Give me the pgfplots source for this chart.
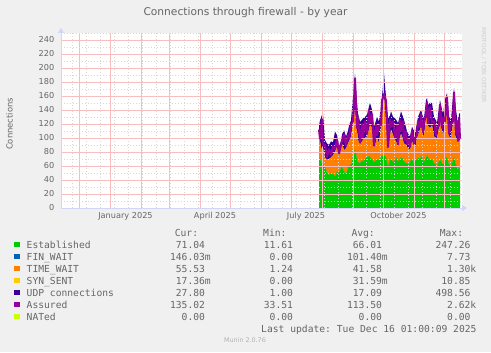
\documentclass[border=0pt]{standalone}
\usepackage{fontspec}
\setmainfont{DejaVu Sans}
\setmonofont{DejaVu Sans Mono}
\usepackage{pgfplots}
\usepackage{pgfplotstable}
\pgfplotsset{compat=1.18}
\usetikzlibrary{arrows.meta}
\definecolor{bgc}{HTML}{F0F0F0}
\definecolor{fontc}{HTML}{666666}
\definecolor{axisc}{HTML}{CFD6F8}
\definecolor{majgridcol}{RGB}{246,190,190}
\definecolor{mingridcol}{RGB}{215,215,215}
\definecolor{cEst}{HTML}{00CC00}
\definecolor{cFin}{HTML}{0066B3}
\definecolor{cTw}{HTML}{FF8000}
\definecolor{cSyn}{HTML}{FFCC00}
\definecolor{cUdp}{HTML}{330099}
\definecolor{cAss}{HTML}{990099}
\definecolor{cNat}{HTML}{CCFF00}

\pgfplotstableread{
day est fin tw syn udp ass
209 71 0.1 33 0.03 14 112
210 70 0.1 25 0.03 30 99
212 64 0.1 16 0.03 53 127
213 62 0.1 23 0.03 50 89
215 59 0.1 13 0.03 25 91
217 50 0.1 19 0.03 23 73
219 47 0.1 23 0.03 20 84
221 50 0.1 22 0.03 23 76
223 48 0.1 27 0.03 19 88
225 45 0.1 35 0.03 29 84
227 52 0.1 35 0.03 17 98
229 50 0.1 24 0.03 14 78
231 57 0.1 31 0.03 8 90
232 59 0.1 33 0.03 13 96
234 52 0.1 30 0.03 29 105
236 48 0.1 37 0.03 17 89
238 58 0.1 34 0.03 18 104
239 60 0.1 35 0.03 23 99
241 62 0.1 40 0.03 23 119
243 72 0.1 48 0.03 40 124
245 83 0.1 57 0.03 52 185
247 70 0.1 40 0.03 40 114
248 65 0.1 32 0.03 38 129
250 64 0.1 26 0.03 33 94
252 68 0.1 27 0.03 31 120
253 66 0.1 31 0.03 31 101
255 70 0.1 30 0.03 30 124
257 72 0.1 30 0.03 31 106
259 74 0.1 38 0.03 33 139
260 72 0.1 46 0.03 32 122
262 70 0.1 45 0.03 25 134
264 65 0.1 20 0.03 31 89
266 68 0.1 27 0.03 30 119
267 70 0.1 30 0.03 30 104
269 68 0.1 24 0.03 31 117
271 72 0.1 43 0.03 30 119
272 74 0.1 56 0.03 29 153
274 76 0.1 83 0.03 33 163
276 72 0.1 48 0.03 39 153
278 60 0.1 23 0.03 45 87
280 68 0.1 32 0.03 32 126
281 70 0.1 42 0.03 26 116
283 66 0.1 38 0.03 26 124
285 68 0.1 29 0.03 31 101
287 72 0.1 20 0.03 32 118
288 66 0.1 21 0.03 34 91
290 70 0.1 30 0.03 32 126
291 72 0.1 34 0.03 32 110
293 70 0.1 28 0.03 32 124
294 66 0.1 26 0.03 34 96
296 64 0.1 26 0.03 25 109
297 64 0.1 23 0.03 22 91
299 62 0.1 22 0.03 20 98
300 66 0.1 17 0.03 19 87
302 70 0.1 25 0.03 21 110
304 63 0.1 25 0.03 22 92
305 66 0.1 17 0.03 23 100
307 70 0.1 30 0.03 22 104
308 72 0.1 32 0.03 26 124
310 70 0.1 42 0.03 25 116
311 74 0.1 42 0.03 24 134
313 68 0.1 36 0.03 26 108
314 66 0.1 36 0.03 26 122
316 72 0.1 58 0.03 24 134
317 75 0.1 51 0.03 31 151
318 72 0.1 45 0.03 30 121
320 68 0.1 46 0.03 36 144
322 70 0.1 48 0.03 32 122
324 64 0.1 38 0.03 28 124
326 62 0.1 38 0.03 25 104
327 60 0.1 40 0.03 21 115
329 66 0.1 48 0.03 31 118
330 70 0.1 56 0.03 28 148
332 64 0.1 46 0.03 30 114
333 62 0.1 40 0.03 33 129
335 70 0.1 50 0.03 35 124
337 72 0.1 63 0.03 29 158
339 62 0.1 40 0.03 28 106
341 60 0.1 40 0.03 26 120
343 68 0.1 52 0.03 40 124
344 72 0.1 63 0.03 36 165
346 62 0.1 38 0.03 40 104
347 56 0.1 40 0.03 34 124
348 55 0.1 37 0.03 18 96
349 58 0.1 39 0.03 38 129
350 56 0.1 39 0.03 40 99
}\fwdata

\pgfplotsset{
  fwbase/.style={
    at={(61bp,144bp)}, anchor=south west, scale only axis,
    width=401bp, height=175bp,
    xmin=-49, xmax=352, ymin=0, ymax=250,
  }
}

\newcommand{\legfont}{\fontsize{9.7}{11}\ttfamily}

\begin{document}
\begin{tikzpicture}[x=1bp,y=1bp]
\useasboundingbox (0,0) rectangle (491,352);
\fill[bgc] (0,0) rectangle (491,352);

\begin{axis}[fwbase,
  axis background/.style={fill=white},
  stack plots=y,
  axis on top,
  axis lines=left,
  axis line style={draw=axisc, line width=0.8bp},
  x axis line style={-{Triangle[length=5bp,width=6bp]}, shorten >=-5bp},
  y axis line style={-{Triangle[length=5bp,width=6bp]}, shorten >=-5bp},
  major tick length=0pt, minor tick length=0pt,
  xtick={-31,0,31,59,90,120,151,181,212,243,273,304,334},
  xticklabels={},
  minor xtick={-38,-24,...,346},
  extra x ticks={15.5,105,196,288.5},
  extra x tick labels={January 2025,April 2025,July 2025,October 2025},
  extra x tick style={grid=none},
  ytick={0,20,...,240},
  minor ytick={10,30,...,250},
  grid=both,
  grid style={line width=0.5bp},
  major grid style={majgridcol, solid, line width=0.5bp},
  minor grid style={mingridcol, dashed, dash pattern=on 1bp off 2bp, line width=0.6bp},
  /pgf/number format/assume math mode=true,
  ticklabel style={font=\fontsize{8.2}{9}\selectfont, text=fontc, inner sep=0pt},
  yticklabel style={anchor=east, xshift=-6.5bp},
  xticklabel style={anchor=north, yshift=-4bp},
]
\addplot[fill=cEst, draw=none] table[x=day,y=est]{\fwdata} \closedcycle;
\addplot[fill=cFin, draw=none] table[x=day,y=fin]{\fwdata} \closedcycle;
\addplot[fill=cTw, draw=none] table[x=day,y=tw]{\fwdata} \closedcycle;
\addplot[fill=cSyn, draw=none] table[x=day,y=syn]{\fwdata} \closedcycle;
\addplot[fill=cUdp, draw=none] table[x=day,y=udp]{\fwdata} \closedcycle;
\end{axis}

\begin{axis}[fwbase, axis lines=none, ticks=none]
\addplot[draw=cAss, line width=2bp, line join=round, no marks] table[x=day,y=ass]{\fwdata};
\end{axis}

% title, labels, watermark
\node[anchor=base, inner sep=0pt, text=fontc, font=\fontsize{10.7}{12}\selectfont] at (245.5,337) {Connections through firewall - by year};
\node[anchor=base, inner sep=0pt, rotate=90, text=fontc, font=\fontsize{8.4}{10}\selectfont] at (12.5,228) {Connections};
\node[inner sep=0pt, rotate=-90, text=black!20, font=\fontsize{5.9}{7}\selectfont] at (483.7,287) {RRDTOOL / TOBI OETIKER};

% legend
\begin{scope}[every node/.style={inner sep=0pt, text=fontc, font=\legfont}]
\node[anchor=base east] at (198.3,115.7) {Cur:};
\node[anchor=base east] at (286.7,115.7) {Min:};
\node[anchor=base east] at (375,115.7) {Avg:};
\node[anchor=base east] at (463.3,115.7) {Max:};

\fill[cEst] (14,104.7) rectangle (19.8,110.5);
\node[anchor=base west] at (26.5,103.7) {Established};
\node[anchor=base east] at (211,103.7) {71.04\hphantom{m}};
\node[anchor=base east] at (299,103.7) {11.61\hphantom{m}};
\node[anchor=base east] at (388,103.7) {66.01\hphantom{m}};
\node[anchor=base east] at (476.5,103.7) {247.26\hphantom{m}};

\fill[cFin] (14,92.7) rectangle (19.8,98.5);
\node[anchor=base west] at (26.5,91.7) {FIN\_WAIT};
\node[anchor=base east] at (211,91.7) {146.03m};
\node[anchor=base east] at (299,91.7) {0.00\hphantom{m}};
\node[anchor=base east] at (388,91.7) {101.40m};
\node[anchor=base east] at (476.5,91.7) {7.73\hphantom{m}};

\fill[cTw] (14,80.7) rectangle (19.8,86.5);
\node[anchor=base west] at (26.5,79.7) {TIME\_WAIT};
\node[anchor=base east] at (211,79.7) {55.53\hphantom{m}};
\node[anchor=base east] at (299,79.7) {1.24\hphantom{m}};
\node[anchor=base east] at (388,79.7) {41.58\hphantom{m}};
\node[anchor=base east] at (476.5,79.7) {1.30k};

\fill[cSyn] (14,68.7) rectangle (19.8,74.5);
\node[anchor=base west] at (26.5,67.7) {SYN\_SENT};
\node[anchor=base east] at (211,67.7) {17.36m};
\node[anchor=base east] at (299,67.7) {0.00\hphantom{m}};
\node[anchor=base east] at (388,67.7) {31.59m};
\node[anchor=base east] at (476.5,67.7) {10.85\hphantom{m}};

\fill[cUdp] (14,56.7) rectangle (19.8,62.5);
\node[anchor=base west] at (26.5,55.7) {UDP connections};
\node[anchor=base east] at (211,55.7) {27.80\hphantom{m}};
\node[anchor=base east] at (299,55.7) {1.00\hphantom{m}};
\node[anchor=base east] at (388,55.7) {17.09\hphantom{m}};
\node[anchor=base east] at (476.5,55.7) {498.56\hphantom{m}};

\fill[cAss] (14,44.7) rectangle (19.8,50.5);
\node[anchor=base west] at (26.5,43.7) {Assured};
\node[anchor=base east] at (211,43.7) {135.02\hphantom{m}};
\node[anchor=base east] at (299,43.7) {33.51\hphantom{m}};
\node[anchor=base east] at (388,43.7) {113.50\hphantom{m}};
\node[anchor=base east] at (476.5,43.7) {2.62k};

\fill[cNat] (14,32.7) rectangle (19.8,38.5);
\node[anchor=base west] at (26.5,31.7) {NATed};
\node[anchor=base east] at (211,31.7) {0.00\hphantom{m}};
\node[anchor=base east] at (299,31.7) {0.00\hphantom{m}};
\node[anchor=base east] at (388,31.7) {0.00\hphantom{m}};
\node[anchor=base east] at (476.5,31.7) {0.00\hphantom{m}};

\node[anchor=base east] at (476.7,19.7) {Last update: Tue Dec 16 01:00:09 2025};
\end{scope}
\node[inner sep=0pt, text=black!30, font=\fontsize{6.4}{7}\selectfont] at (245,11.5) {Munin 2.0.76};
\end{tikzpicture}
\end{document}
